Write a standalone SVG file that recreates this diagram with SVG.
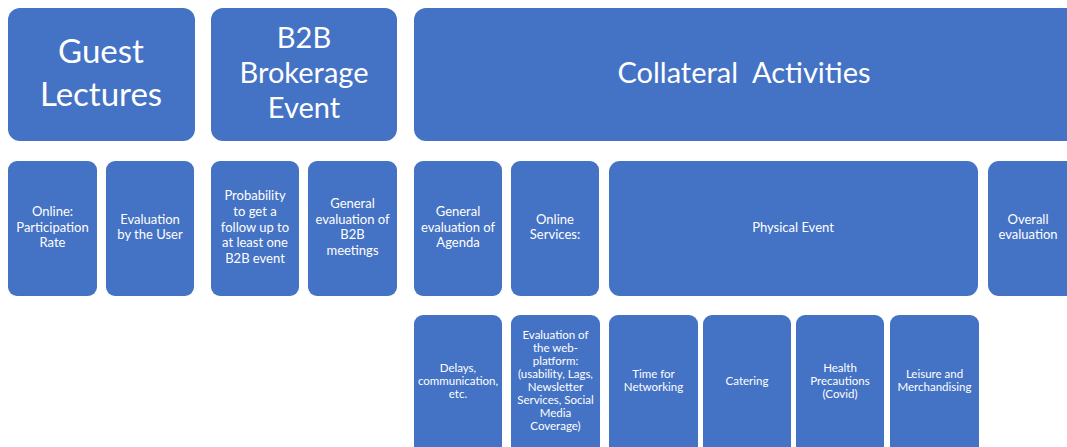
<svg xmlns="http://www.w3.org/2000/svg" width="1067" height="447" viewBox="0 0 1067 447">
<style>
.b{fill:#4472C4;}
text{font-family:Lato,"Open Sans","Liberation Sans",sans-serif;fill:#ffffff;text-anchor:middle;}
.h1{font-size:33px;}
.h2{font-size:29px;}
.s{font-size:13px;}
.t{font-size:11.5px;}
</style>
<rect width="1067" height="447" fill="#ffffff"/>
<g id="guest-lectures"><rect class="b" x="8" y="8" width="187" height="133" rx="12"/><text class="h1" x="101" y="63">Guest</text><text class="h1" x="101" y="106">Lectures</text></g>
<g id="b2b"><rect class="b" x="211" y="8" width="186" height="133" rx="12"/><text class="h2" x="304" y="48">B2B</text><text class="h2" x="304" y="83">Brokerage</text><text class="h2" x="304" y="118">Event</text></g>
<g id="collateral"><rect class="b" x="414" y="8" width="670" height="133" rx="12"/><text class="h2" x="744" y="83" xml:space="preserve">Collateral  Activities</text></g>

<g id="online-participation"><rect class="b" x="8" y="161" width="89" height="135" rx="9"/><text class="s" x="52.5" y="216">Online:</text><text class="s" x="52.5" y="232">Participation</text><text class="s" x="52.5" y="247">Rate</text></g>
<g id="eval-user"><rect class="b" x="106" y="161" width="88" height="135" rx="9"/><text class="s" x="150" y="224">Evaluation</text><text class="s" x="150" y="239">by the User</text></g>
<g id="probability"><rect class="b" x="211" y="161" width="88" height="135" rx="9"/><text class="s" x="255" y="200">Probability</text><text class="s" x="255" y="216">to get a</text><text class="s" x="255" y="232">follow up to</text><text class="s" x="255" y="247">at least one</text><text class="s" x="255" y="263">B2B event</text></g>
<g id="general-b2b"><rect class="b" x="308" y="161" width="89" height="135" rx="9"/><text class="s" x="352.5" y="208">General</text><text class="s" x="352.5" y="224">evaluation of</text><text class="s" x="352.5" y="239">B2B</text><text class="s" x="352.5" y="255">meetings</text></g>
<g id="general-agenda"><rect class="b" x="414" y="161" width="88" height="135" rx="9"/><text class="s" x="458" y="216">General</text><text class="s" x="458" y="232">evaluation of</text><text class="s" x="458" y="247">Agenda</text></g>
<g id="online-services"><rect class="b" x="511" y="161" width="88" height="135" rx="9"/><text class="s" x="555" y="224">Online</text><text class="s" x="555" y="239">Services:</text></g>
<g id="physical-event"><rect class="b" x="609" y="161" width="369" height="135" rx="11"/><text class="s" x="793" y="232">Physical Event</text></g>
<g id="overall"><rect class="b" x="988" y="161" width="100" height="135" rx="11"/><text class="s" x="1028" y="224">Overall</text><text class="s" x="1028" y="239">evaluation</text></g>

<g id="delays"><rect class="b" x="414" y="315" width="88" height="140" rx="9"/><text class="t" x="458" y="372">Delays,</text><text class="t" x="458" y="385">communication,</text><text class="t" x="458" y="398">etc.</text></g>
<g id="web-platform"><rect class="b" x="511" y="315" width="89" height="140" rx="9"/><text class="t" x="555.5" y="339">Evaluation of</text><text class="t" x="555.5" y="352">the web-</text><text class="t" x="555.5" y="365">platform:</text><text class="t" x="555.5" y="378">(usability, Lags,</text><text class="t" x="555.5" y="391">Newsletter</text><text class="t" x="555.5" y="404">Services, Social</text><text class="t" x="555.5" y="417">Media</text><text class="t" x="555.5" y="430">Coverage)</text></g>
<g id="networking"><rect class="b" x="609" y="315" width="89" height="140" rx="9"/><text class="t" x="653.5" y="378">Time for</text><text class="t" x="653.5" y="391">Networking</text></g>
<g id="catering"><rect class="b" x="703" y="315" width="88" height="140" rx="9"/><text class="t" x="747" y="385">Catering</text></g>
<g id="health"><rect class="b" x="796" y="315" width="88" height="140" rx="9"/><text class="t" x="840" y="372">Health</text><text class="t" x="840" y="385">Precautions</text><text class="t" x="840" y="398">(Covid)</text></g>
<g id="leisure"><rect class="b" x="890" y="315" width="89" height="140" rx="9"/><text class="t" x="934.5" y="378">Leisure and</text><text class="t" x="934.5" y="391">Merchandising</text></g>
<g id="connectors"></g>
</svg>
